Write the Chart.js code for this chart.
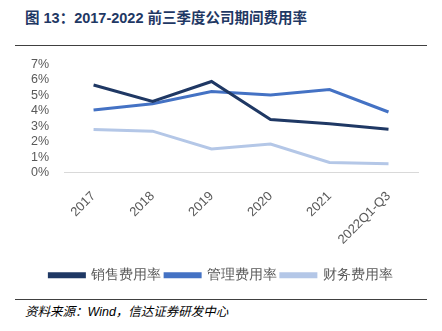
<!DOCTYPE html>
<html>
<head>
<meta charset="utf-8">
<script src="https://cdn.jsdelivr.net/npm/chart.js@4"></script>
<style>
  body { margin:0; width:442px; height:331px; background:#fff; position:relative; overflow:hidden;
         font-family:"Liberation Sans","Noto Sans CJK SC",sans-serif; }
  #title { position:absolute; left:25px; top:6px; font-size:14.5px; font-weight:bold; color:#1f3864; white-space:nowrap; }
  .rule { position:absolute; left:15px; width:412px; height:1px; background:#404040; }
  #src { position:absolute; left:25px; top:301px; font-size:12.5px; font-style:italic; color:#000; white-space:nowrap; }
  #wrap { position:absolute; left:0; top:50px; width:442px; height:245px; }
</style>
</head>
<body>
<div id="title">图 13：2017-2022 前三季度公司期间费用率</div>
<div class="rule" style="top:45px"></div>
<div id="wrap"><canvas id="myChart"></canvas></div>
<div class="rule" style="top:299px"></div>
<div id="src">资料来源：Wind，信达证券研发中心</div>
<script>
const years = ["2017", "2018", "2019", "2020", "2021", "2022Q1-Q3"];
const sales = [5.67, 4.6, 5.9, 3.44, 3.16, 2.81];
const admin = [4.05, 4.46, 5.25, 5.03, 5.38, 3.92];
const finance = [2.79, 2.68, 1.52, 1.85, 0.65, 0.57];

new Chart("myChart", {
  type: "line",
  data: {
    labels: years,
    datasets: [
      { label: "销售费用率", data: sales, borderColor: "#1f3864", backgroundColor: "#1f3864" },
      { label: "管理费用率", data: admin, borderColor: "#4472c4", backgroundColor: "#4472c4" },
      { label: "财务费用率", data: finance, borderColor: "#b4c7e7", backgroundColor: "#b4c7e7" }
    ]
  },
  options: {
    responsive: true,
    maintainAspectRatio: false,
    animation: { duration: 0 },
    layout: { padding: { left: 24, right: 24, top: 12, bottom: 3 } },
    elements: { point: { radius: 0 }, line: { borderWidth: 3, tension: 0 } },
    scales: {
      x: {
        offset: true,
        grid: { display: false },
        border: { color: "#d9d9d9" },
        ticks: { color: "#595959", font: { size: 13 }, maxRotation: 45, minRotation: 45, padding: 8 },
        afterFit: s => { s.height = 92; }
      },
      y: {
        min: 0, max: 7,
        grid: { display: false },
        border: { display: false },
        ticks: { stepSize: 1, autoSkip: false, color: "#595959", font: { size: 12.5 }, padding: 7,
                 callback: v => v + "%" }
      }
    },
    plugins: {
      legend: {
        position: "bottom",
        labels: { boxWidth: 35, boxHeight: 3, color: "#595959", font: { size: 13.5 }, padding: 4 }
      },
      tooltip: { enabled: false }
    }
  }
});
</script>
</body>
</html>
